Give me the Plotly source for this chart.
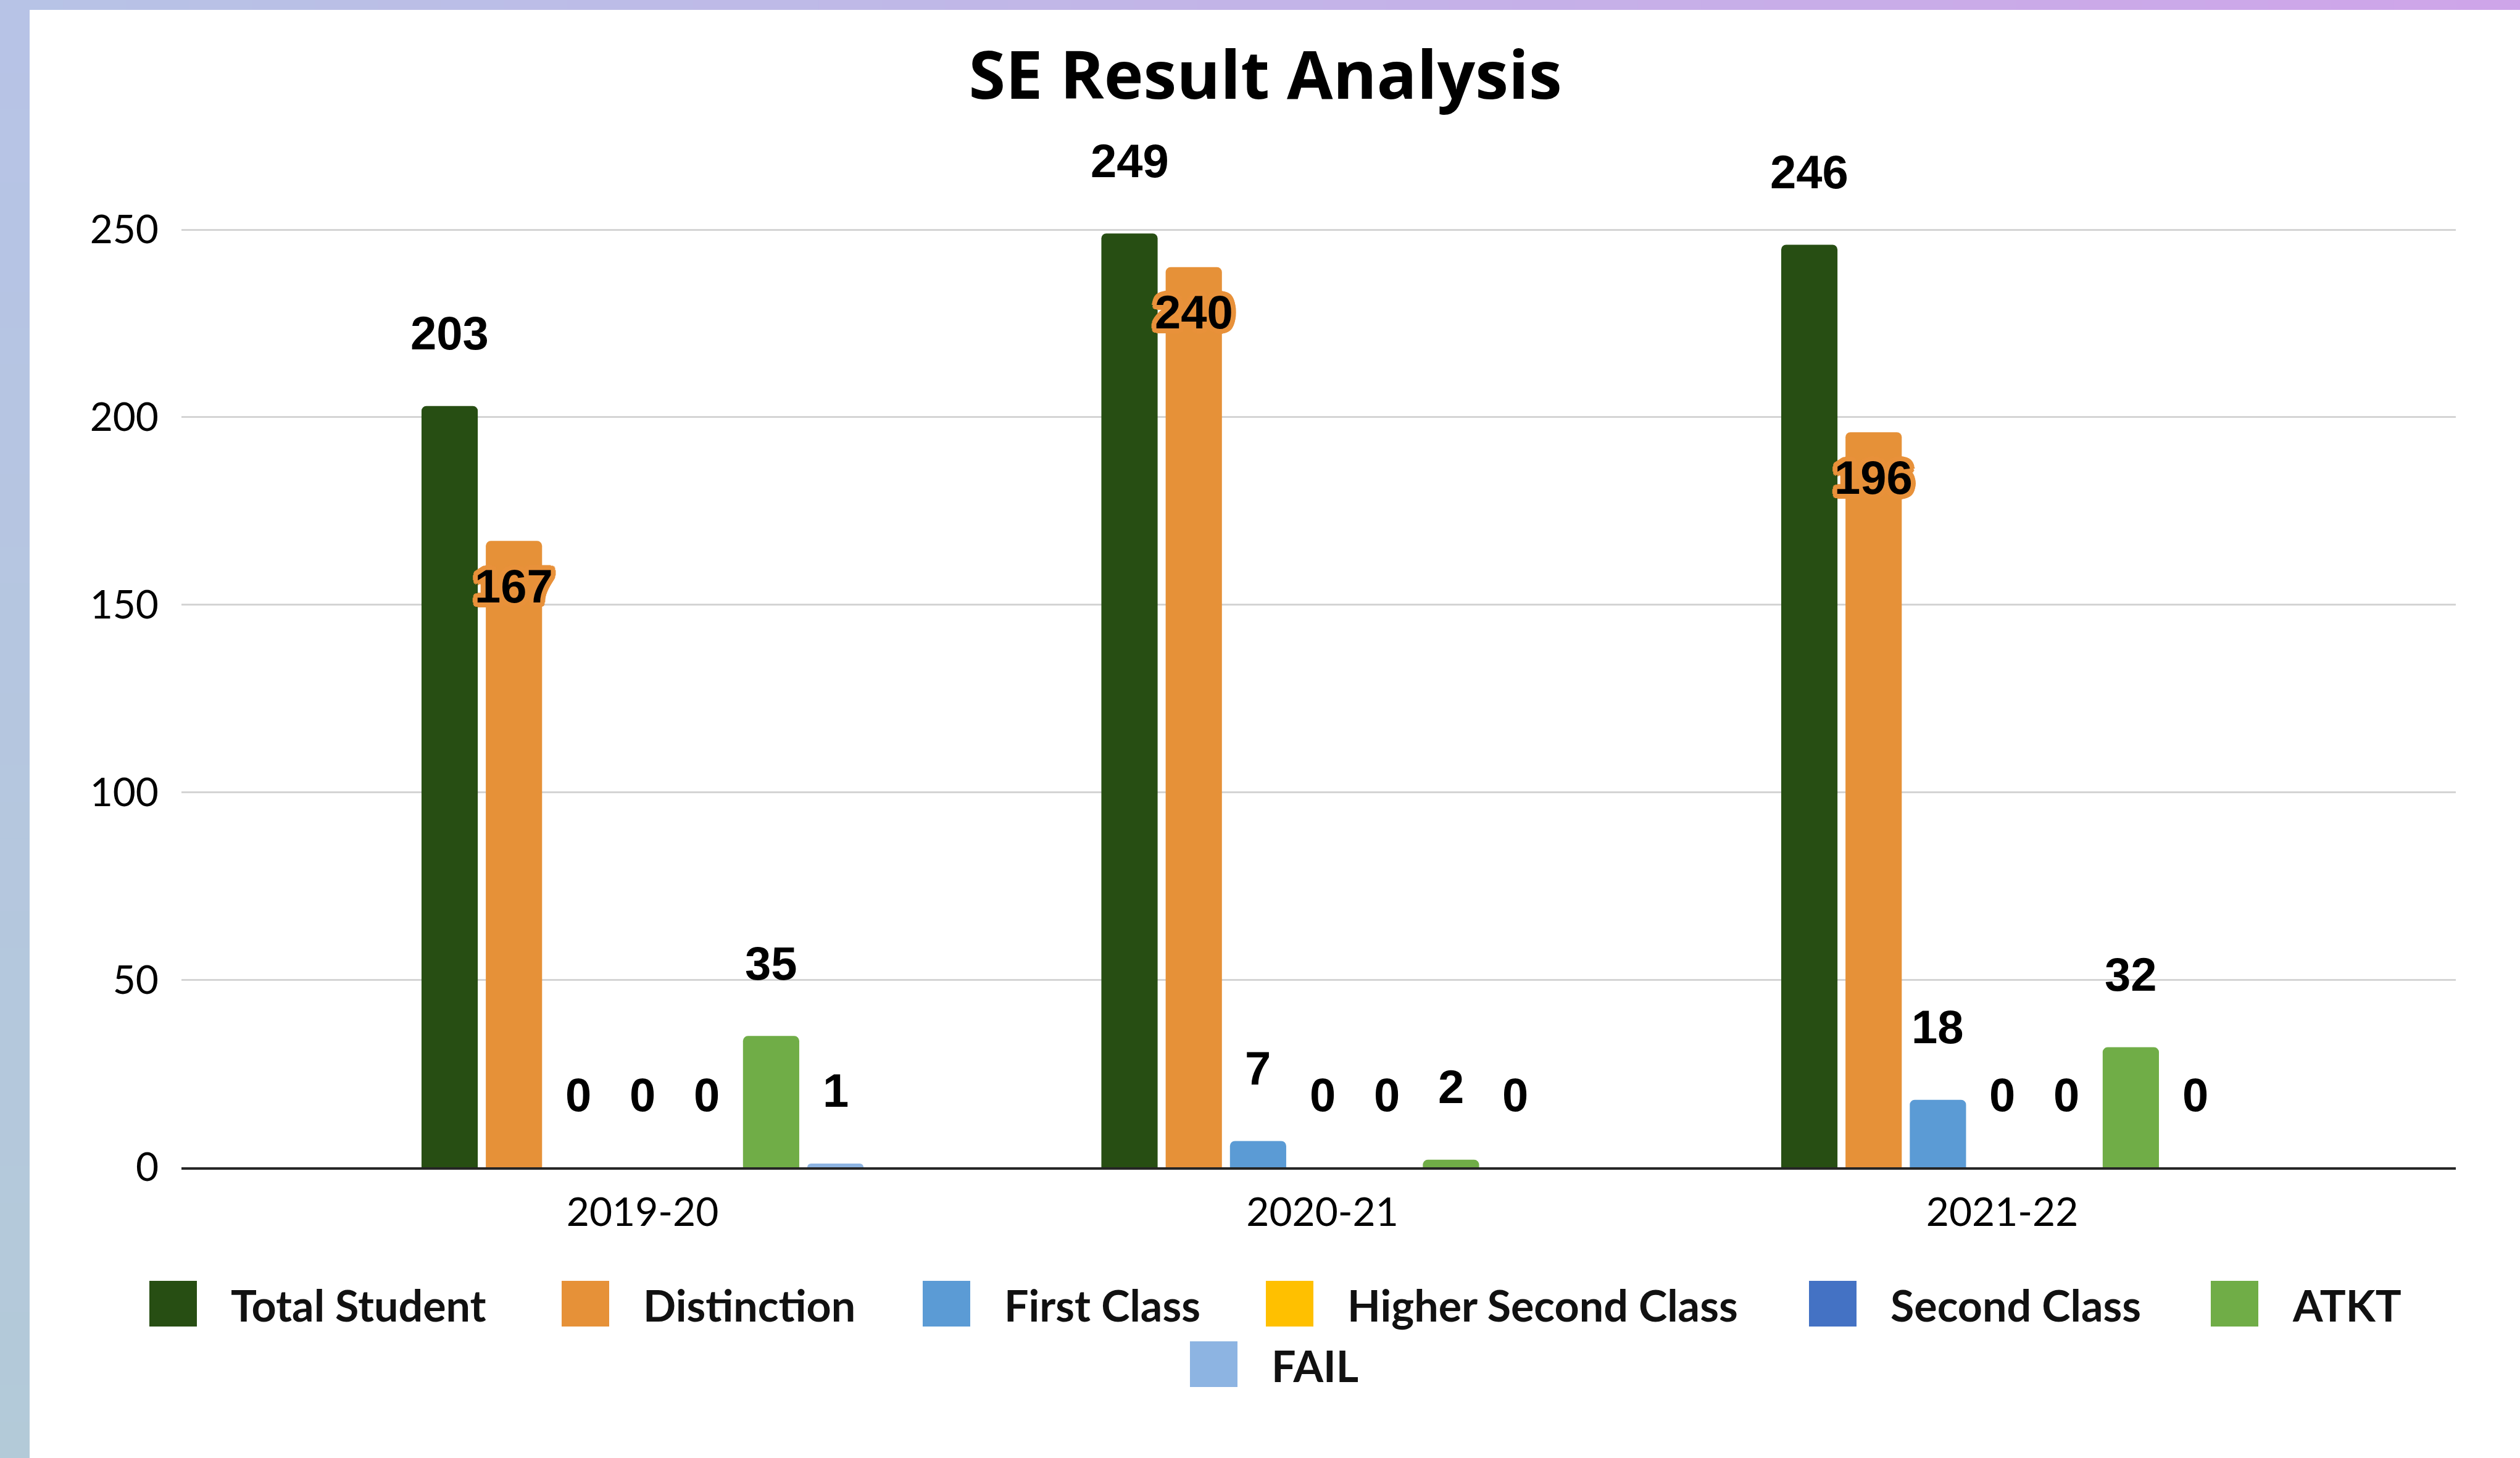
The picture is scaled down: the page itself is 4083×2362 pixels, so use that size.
import plotly.graph_objects as go

# ---------------- data ----------------
years = ["2019-20", "2020-21", "2021-22"]
series_names = ["Total Student", "Distinction", "First Class",
                "Higher Second Class", "Second Class", "ATKT", "FAIL"]
total_student = [203, 249, 246]
distinction = [167, 240, 196]
first_class = [0, 7, 18]
higher_second_class = [0, 0, 0]
second_class = [0, 0, 0]
atkt = [35, 2, 32]
fail = [1, 0, 0]
y_ticks = [0, 50, 100, 150, 200, 250]

series_values = [total_student, distinction, first_class,
                 higher_second_class, second_class, atkt, fail]
colors = ["#274E13", "#E69138", "#5B9BD5", "#FFC000", "#4472C4", "#70AD47", "#8DB4E2"]

# ---------------- layout constants (pixels) ----------------
W, H = 4083, 2362
L, R = 294, 104
Y0_PX = 1891
YMAX = 251
PLOT_H = 1519 * YMAX / 250
T = Y0_PX - PLOT_H
B = H - Y0_PX
PLOT_W = W - L - R
HALF_SPAN = 1.6727
X_CENTER = 1 - 0.0055
BARGAP = 0.338
CAT_PX = PLOT_W / (2 * HALF_SPAN)
SLOT_PX = CAT_PX * (1 - BARGAP) / len(series_names)


def px_x(px):
    return (px - L) / PLOT_W


def px_y(py):
    return (Y0_PX - py) / PLOT_H


LABEL_FONT = "Liberation Sans"
TEXT_FONT = "Lato"
HALO = "#E8913A"
halo_shadow = ", ".join(
    f"{dx}px {dy}px 0 {HALO}" for dx, dy in
    [(8, 0), (-8, 0), (0, 8), (0, -8), (6, 6), (-6, -6), (6, -6), (-6, 6),
     (4, 7), (-4, 7), (4, -7), (-4, -7), (7, 4), (-7, 4), (7, -4), (-7, -4),
     (3, 3), (-3, -3), (3, -3), (-3, 3)]
)

fig = go.Figure()
annotations = []
for idx, (name, vals, col) in enumerate(zip(series_names, series_values, colors)):
    fig.add_trace(go.Bar(
        name=name, x=years, y=vals, marker=dict(color=col, line=dict(width=0)),
        showlegend=False, hoverinfo="skip",
    ))
    inside = name == "Distinction"
    for yr, v in zip(years, vals):
        font = dict(family=LABEL_FONT, size=76, color="#000000", weight="bold")
        if inside:
            font["shadow"] = halo_shadow
        annotations.append(dict(
            xref="x", yref="y", x=yr, y=v,
            xshift=(idx - 3) * SLOT_PX, yshift=-73 if inside else 118,
            xanchor="center", yanchor="middle", showarrow=False, text=str(v),
            font=font))

shapes = []


def lerp(c1, c2, t):
    a = [int(c1[i:i + 2], 16) for i in (1, 3, 5)]
    b = [int(c2[i:i + 2], 16) for i in (1, 3, 5)]
    return "#%02x%02x%02x" % tuple(round(a[k] + (b[k] - a[k]) * t) for k in range(3))


# decorative gradient frame (left and top bands)
N = 40
for i in range(N):
    t0, t1 = i / N, (i + 1) / N
    shapes.append(dict(type="rect", xref="paper", yref="paper",
                       x0=px_x(0), x1=px_x(48),
                       y0=px_y(H * t1 + 1), y1=px_y(H * t0),
                       fillcolor=lerp("#B7C3E6", "#B3CAD8", t0), line=dict(width=0), layer="below"))
    shapes.append(dict(type="rect", xref="paper", yref="paper",
                       x0=px_x(W * t0), x1=px_x(W * t1 + 1),
                       y0=px_y(16), y1=px_y(0),
                       fillcolor=lerp("#B7C3E6", "#CFA4E9", t0), line=dict(width=0), layer="below"))

# custom legend
legend_pos = [(242, 2112), (910, 2112), (1495, 2112), (2051, 2112),
              (2931, 2112), (3582, 2112), (1928, 2210)]
for (sx, sy), name, col in zip(legend_pos, series_names, colors):
    shapes.append(dict(type="rect", xref="paper", yref="paper",
                       x0=px_x(sx), x1=px_x(sx + 77),
                       y0=px_y(sy + 37), y1=px_y(sy - 37),
                       fillcolor=col, line=dict(width=0)))
    annotations.append(dict(xref="paper", yref="paper", x=px_x(sx + 130), y=px_y(sy + 2),
                            xanchor="left", yanchor="middle", showarrow=False,
                            text=name, font=dict(family=TEXT_FONT, size=70,
                                                 color="#111111", weight="bold")))

fig.update_layout(
    width=W, height=H,
    margin=dict(l=L, r=R, t=T, b=B, pad=0),
    paper_bgcolor="#FFFFFF", plot_bgcolor="#FFFFFF",
    barmode="group", bargap=BARGAP, bargroupgap=0.125, barcornerradius=8,
    title=dict(text="SE Result Analysis", xref="container", yref="container",
               x=2050 / W, y=1 - 122 / H, xanchor="center", yanchor="middle",
               font=dict(family="Open Sans", size=108, color="#000000", weight="bold")),
    xaxis=dict(type="category", range=[X_CENTER - HALF_SPAN, X_CENTER + HALF_SPAN],
               showgrid=False, showline=True, linecolor="#262626", linewidth=4,
               ticks="", ticklabelstandoff=14,
               tickfont=dict(family=TEXT_FONT, size=64, color="#000000")),
    yaxis=dict(range=[0, YMAX], tickvals=y_ticks, showgrid=True,
               gridcolor="#D4D4D4", gridwidth=3, zeroline=False, showline=False,
               ticks="", ticklabelstandoff=36,
               tickfont=dict(family=TEXT_FONT, size=64, color="#000000")),
    shapes=shapes, annotations=annotations, showlegend=False,
)

fig.write_html(
    "out.html",
    config={"displayModeBar": False},
    post_script="document.body.style.margin='0';document.body.style.padding='0';"
                "document.body.style.overflow='hidden';",
)
